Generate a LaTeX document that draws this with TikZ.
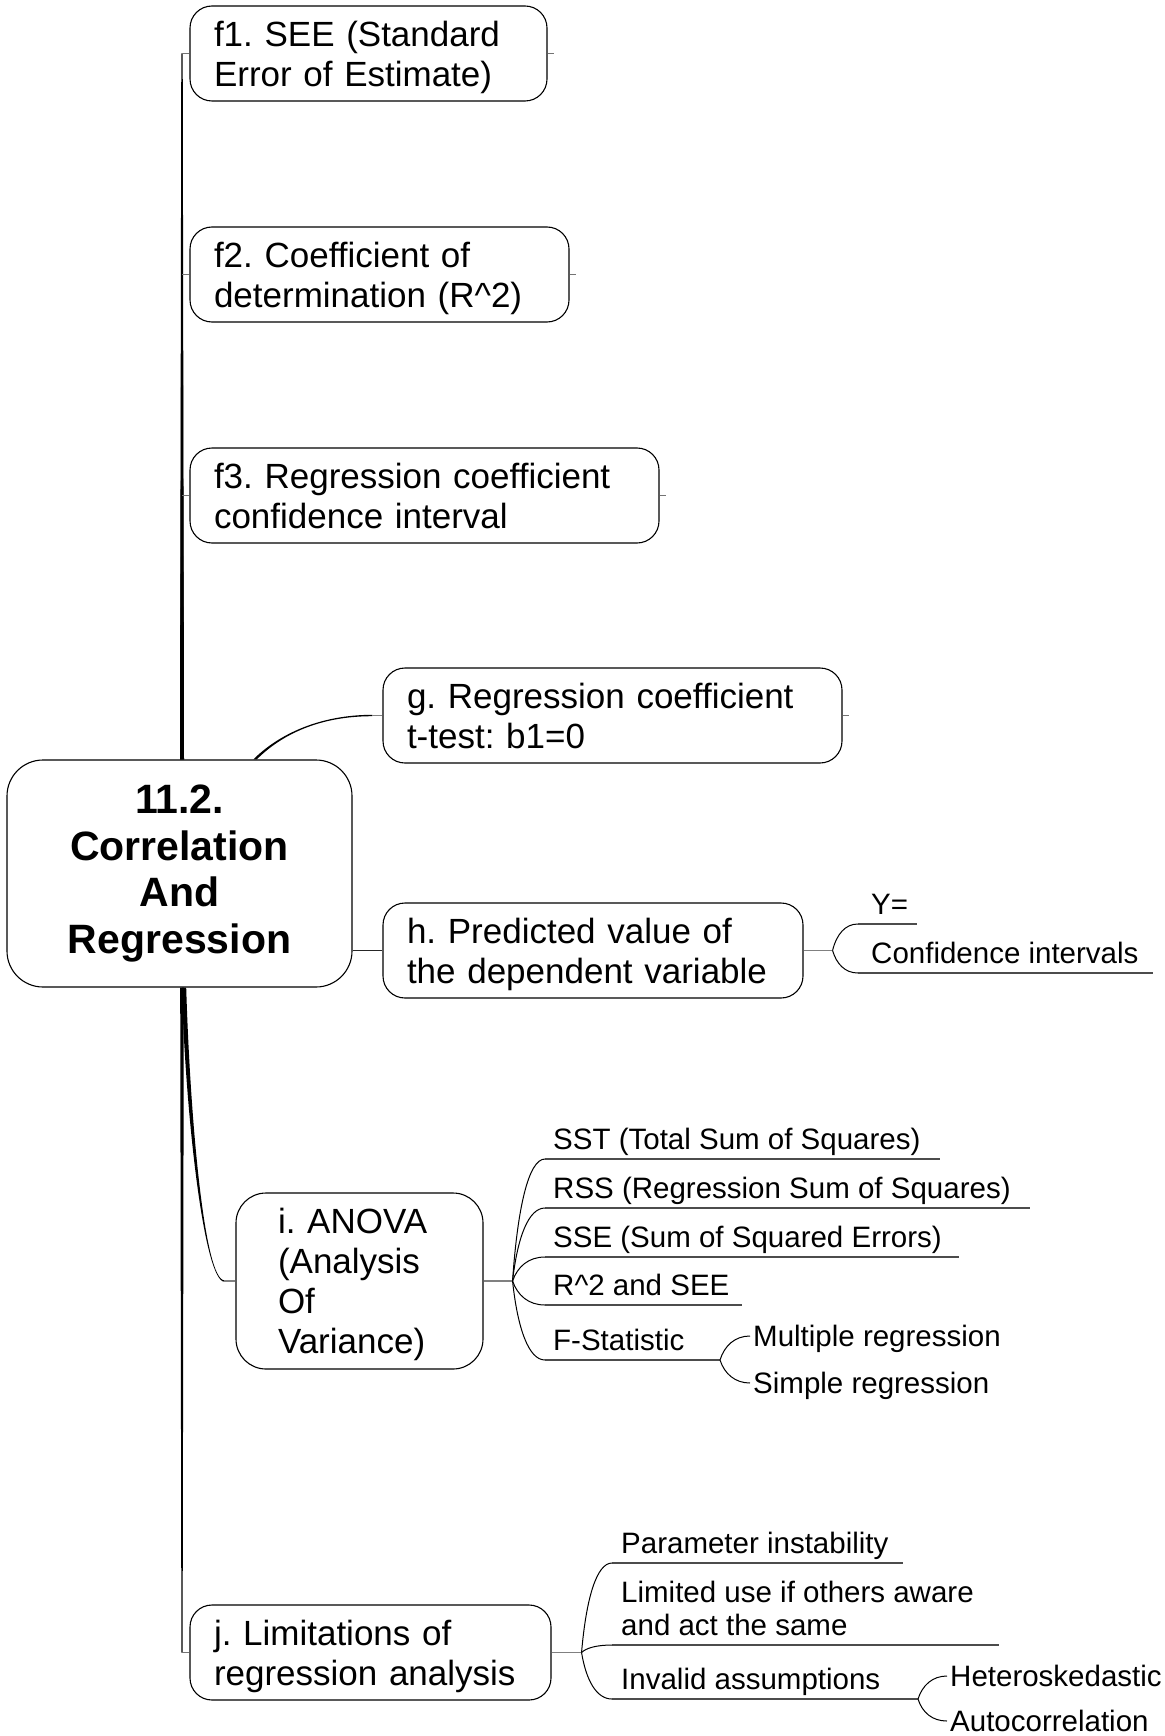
\documentclass[tikz,border=0pt]{standalone}
\usepackage{fontspec}
\setmainfont{Liberation Sans}
\frenchspacing
\usetikzlibrary{calc}
\begin{document}
\frenchspacing
\begin{tikzpicture}[x=1pt,y=-1pt,
  box/.style={draw=black, line width=1.1pt, rounded corners=22pt, inner xsep=24pt, inner ysep=0pt,
    align=left, font=\fontsize{35}{40}\selectfont\frenchspacing, minimum height=95pt,
    execute at begin node={\rule{0pt}{33pt}}, execute at end node={\rule[-7pt]{0pt}{7pt}}},
  rootbox/.style={draw=black, line width=1.1pt, rounded corners=36pt, inner sep=0pt, align=center,
    font=\fontsize{41}{46.5}\selectfont\bfseries, minimum width=345pt, minimum height=227pt,
    execute at begin node={\rule{0pt}{38pt}}, execute at end node={\rule[-9pt]{0pt}{9pt}}},
  leaf/.style={font=\fontsize{29.5}{33}\selectfont\frenchspacing, inner xsep=9pt, inner ysep=9pt, text depth=0pt,
    anchor=south west, align=left},
  subleaf/.style={font=\fontsize{29.5}{33}\selectfont, inner xsep=3pt, inner ysep=0pt, text height=24pt,
    text depth=4pt, anchor=base west},
  conn/.style={draw=black, line width=1pt},
  gline/.style={draw=black!50, line width=1.5pt},
  uline/.style={draw=black!70, line width=1.2pt},
  tickline/.style={draw=black!55, line width=1pt}
]
\useasboundingbox (0,0) rectangle (1164,1736);

% ---------- boxes ----------
\node[rootbox] (root) at (179.5,873.5) {11.2.\\Correlation\\And\\Regression};
\node[box, text width=309pt] (f1) at (368.5,53.5) {f1. SEE (Standard\\Error of Estimate)};
\node[box, text width=331pt] (f2) at (379.5,274.5) {f2. Coefficient of\\determination (R\textasciicircum2)};
\node[box, text width=421pt] (f3) at (424.5,495.5) {f3. Regression coefficient\\confidence interval};
\node[box, text width=411pt] (g) at (612.5,715.5) {g. Regression coefficient\\t-test: b1=0};
\node[box, text width=372pt] (h) at (593,950.5) {h. Predicted value of\\the dependent variable};
\node[box, text width=163pt, inner xsep=42pt, minimum height=176pt, rounded corners=30pt] (i) at (359.5,1281)
  {i. ANOVA\\(Analysis\\Of\\Variance)};
\node[box, text width=313pt] (j) at (370.5,1652.5) {j. Limitations of\\regression analysis};

% ---------- main branches ----------
\coordinate (rt) at ([xshift=2.5pt]root.north);
\coordinate (rb) at ([xshift=2.5pt]root.south);
\foreach \n in {f1,f2,f3} {
  \coordinate (e\n) at (rt |- \n.west);
  \fill ([xshift=-2pt]rt) -- ([xshift=2pt]rt) -- ([xshift=0.7pt]e\n) -- ([xshift=-0.7pt]e\n) -- cycle;
  \draw[tickline] (e\n) -- (\n.west);
}
\coordinate (ej) at (rb |- j.west);
\fill ([xshift=-1.8pt]rb) -- ([xshift=1.8pt]rb) -- ([xshift=0.6pt]ej) -- ([xshift=-0.6pt]ej) -- cycle;
\draw[tickline] (ej) -- (j.west);

\foreach \n in {f1,f2,f3,g} \draw[tickline] (\n.east) -- ++(6,0);

% g branch
\coordinate (gs) at ([xshift=75.5pt]root.north);
\coordinate (ge) at ([xshift=-10pt]g.west);
\fill ($(gs)+(-1.7,0)$) .. controls +(25,-25) and +(-53,0) .. ($(ge)+(0,-0.7)$)
  -- ($(ge)+(0,0.7)$) .. controls +(-53,0) and +(25,-25) .. ($(gs)+(1.7,0)$) -- cycle;
\draw[gline] (ge) -- (g.west);

% h branch
\draw[draw=black!85, line width=1.5pt] (root.east |- h.west) -- (h.west);

% i branch
\coordinate (is) at ([xshift=4.5pt]root.south);
\coordinate (ie) at ([xshift=-11pt]i.west);
\fill ($(is)+(-2.2,0)$) .. controls +(4,133) and +(-20,0) .. ($(ie)+(0,0.7)$)
  -- ($(ie)+(0,-0.7)$) .. controls +(-20,0) and +(4,133) .. ($(is)+(2.2,0)$) -- cycle;
\draw[gline] (ie) -- (i.west);

% ---------- h children ----------
\coordinate (hf) at ([xshift=29pt]h.east);
\draw[gline] (h.east) -- (hf);
\node[leaf, inner xsep=13pt] (yeq) at (858,924) {Y=};
\node[leaf, inner xsep=13pt] (ci) at (858,973) {Confidence intervals};
\draw[uline] (yeq.south west) -- ++(59,0);
\draw[uline] (ci.south west) -- ++(295,0);
\draw[conn] (hf) .. controls +(4,-16) and +(-13,0) .. (yeq.south west);
\draw[conn] (hf) .. controls +(4,13.5) and +(-13,0) .. (ci.south west);

% ---------- i children ----------
\coordinate (if) at ([xshift=29pt]i.east);
\draw[gline] (i.east) -- (if);
\node[leaf, inner xsep=8pt] (sst) at (545,1159) {SST (Total Sum of Squares)};
\node[leaf, inner xsep=8pt] (rss) at (545,1208) {RSS (Regression Sum of Squares)};
\node[leaf, inner xsep=8pt] (sse) at (545,1257) {SSE (Sum of Squared Errors)};
\node[leaf, inner xsep=8pt] (rsq) at (545,1305) {R\textasciicircum2 and SEE};
\node[leaf, inner xsep=8pt] (fst) at (545,1360) {F-Statistic};
\draw[uline] (sst.south west) -- ++(395,0);
\draw[uline] (rss.south west) -- ++(485,0);
\draw[uline] (sse.south west) -- ++(414,0);
\draw[uline] (rsq.south west) -- ++(197,0);
\draw[uline] (fst.south west) -- ++(175,0);
\draw[conn] (if) .. controls +(5,-73) and +(-16.5,0) .. (sst.south west);
\draw[conn] (if) .. controls +(5,-44) and +(-16.5,0) .. (rss.south west);
\draw[conn] (if) .. controls +(5,-14.4) and +(-16.5,0) .. (sse.south west);
\draw[conn] (if) .. controls +(5,14.4) and +(-16.5,0) .. (rsq.south west);
\draw[conn] (if) .. controls +(5,47) and +(-16.5,0) .. (fst.south west);

\coordinate (ff) at ([xshift=175pt]fst.south west);
\node[subleaf] (mr) at (750,1346) {Multiple regression};
\node[subleaf] (sr) at (750,1393) {Simple regression};
\draw[conn] (ff) .. controls +(4.5,-14.4) and +(-15,0) .. (mr.west);
\draw[conn] (ff) .. controls +(4.5,13.8) and +(-15,0) .. (sr.west);

% ---------- j children ----------
\coordinate (jf) at ([xshift=30pt]j.east);
\draw[gline] (j.east) -- (jf);
\node[leaf] (pin) at (612,1563) {Parameter instability};
\node[leaf] (lus) at (612,1645) {Limited use if others aware\\and act the same};
\node[leaf] (ias) at (612,1699) {Invalid assumptions};
\draw[uline] (pin.south west) -- ++(291,0);
\draw[uline] (lus.south west) -- ++(387,0);
\draw[uline] (ias.south west) -- ++(306,0);
\draw[conn] (jf) .. controls +(4.6,-53.7) and +(-15.5,0) .. (pin.south west);
\draw[conn] (jf) .. controls +(4.6,-4.5) and +(-15.5,0) .. (lus.south west);
\draw[conn] (jf) .. controls +(4.6,27.9) and +(-15.5,0) .. (ias.south west);

\coordinate (af) at ([xshift=306pt]ias.south west);
\node[subleaf] (het) at (947,1686) {Heteroskedastic};
\node[subleaf] (aut) at (947,1731) {Autocorrelation};
\draw[conn] (af) .. controls +(4.4,-13.8) and +(-14.5,0) .. (het.west);
\draw[conn] (af) .. controls +(4.4,13.8) and +(-14.5,0) .. (aut.west);
\end{tikzpicture}
\end{document}
